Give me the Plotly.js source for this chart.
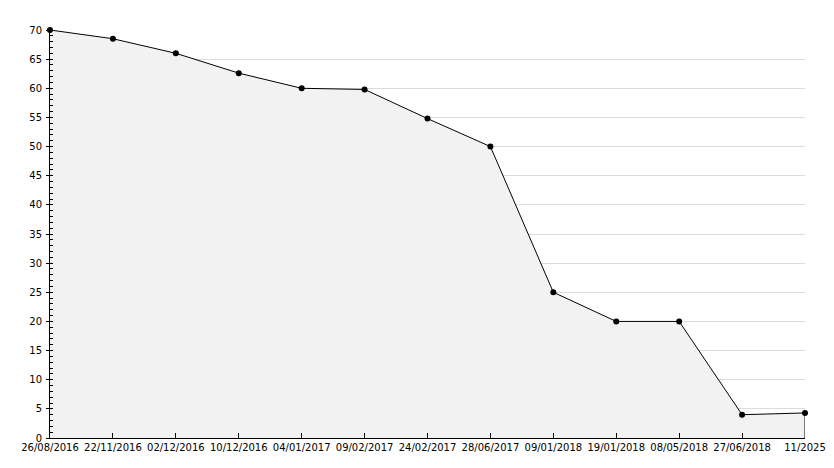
<!DOCTYPE html>
<html>
<head>
<meta charset="utf-8">
<script src="https://cdn.plot.ly/plotly-3.0.1.min.js"></script>
<style>
html,body{margin:0;padding:0;background:#fff;}
#chart{width:834px;height:468px;}
</style>
</head>
<body>
<div id="chart"></div>
<script>
var dates = ["26/08/2016","22/11/2016","02/12/2016","10/12/2016","04/01/2017","09/02/2017","24/02/2017","28/06/2017","09/01/2018","19/01/2018","08/05/2018","27/06/2018","11/2025"];
var values = [70, 68.5, 66, 62.6, 60, 59.8, 54.8, 50, 25, 20, 20, 4, 4.3];
var yTicks = [0,5,10,15,20,25,30,35,40,45,50,55,60,65,70];

var lastIdx = dates.length - 1;

var traces = [
  {
    x: dates,
    y: values,
    type: 'scatter',
    mode: 'lines+markers',
    fill: 'tozeroy',
    fillcolor: '#f2f2f2',
    line: {color: '#000000', width: 1},
    marker: {color: '#000000', size: 6, symbol: 'circle'},
    cliponaxis: false,
    hoverinfo: 'skip'
  },
  {
    x: [dates[lastIdx], dates[lastIdx]],
    y: [values[lastIdx], 0],
    type: 'scatter',
    mode: 'lines',
    line: {color: '#000000', width: 1},
    hoverinfo: 'skip'
  }
];

var layout = {
  width: 834,
  height: 468,
  margin: {l: 50, r: 29, t: 30, b: 30, pad: 0},
  paper_bgcolor: '#ffffff',
  plot_bgcolor: '#ffffff',
  showlegend: false,
  hovermode: false,
  font: {family: 'DejaVu Sans, sans-serif', size: 10, color: '#000000'},
  xaxis: {
    type: 'category',
    range: [0, lastIdx],
    showgrid: false,
    zeroline: false,
    showline: true,
    linecolor: '#000000',
    linewidth: 1,
    ticks: 'inside',
    ticklen: 5,
    tickcolor: '#000000',
    tickwidth: 1,
    tickfont: {family: 'DejaVu Sans, sans-serif', size: 10, color: '#000000'},
    tickangle: 0,
    fixedrange: true
  },
  yaxis: {
    range: [0, 70],
    tickmode: 'array',
    tickvals: yTicks,
    ticktext: yTicks.map(String),
    showgrid: true,
    gridcolor: '#dcdcdc',
    gridwidth: 1,
    zeroline: false,
    showline: true,
    linecolor: '#000000',
    linewidth: 1,
    ticks: 'outside',
    ticklen: 3,
    tickcolor: '#000000',
    ticklabelstandoff: 2,
    tickfont: {family: 'DejaVu Sans, sans-serif', size: 10, color: '#000000'},
    minor: {
      dtick: 1,
      tick0: 0,
      ticks: 'inside',
      ticklen: 3,
      tickcolor: '#000000',
      showgrid: false
    },
    fixedrange: true
  }
};

Plotly.newPlot('chart', traces, layout, {displayModeBar: false, staticPlot: true});
</script>
</body>
</html>
